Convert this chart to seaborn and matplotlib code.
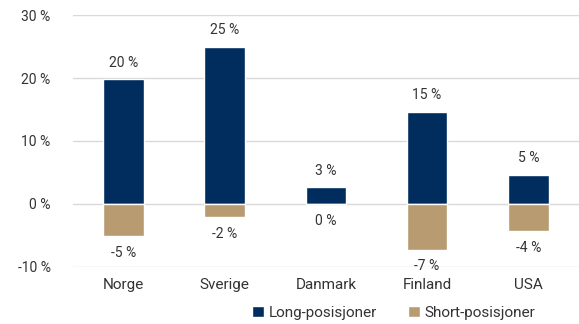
import matplotlib
matplotlib.use("Agg")
import matplotlib.pyplot as plt
from matplotlib.patches import Patch
import seaborn as sns
import pandas as pd

# Net positions per market, in percent
land = ["Norge", "Sverige", "Danmark", "Finland", "USA"]
long_pos = [19.8, 25.0, 2.6, 14.6, 4.6]
short_pos = [-5.1, -2.1, 0.0, -7.3, -4.4]
series_names = ["Long-posisjoner", "Short-posisjoner"]
y_ticks = [-10, 0, 10, 20, 30]

navy = "#002D5E"
tan = "#B89B71"
text_col = "#333333"
grid_col = "#D9D9D9"

df = pd.DataFrame({"land": land, "long": long_pos, "short": short_pos})

sns.set_theme(style="white")
plt.rcParams["font.family"] = ["Roboto", "DejaVu Sans"]

fig = plt.figure(figsize=(5.79, 3.24), dpi=100)
ax = fig.add_axes([0.1256, 0.177, 0.8744, 0.776])

sns.barplot(data=df, x="land", y="long", color=navy, width=0.4,
            saturation=1, ax=ax, order=land)
sns.barplot(data=df, x="land", y="short", color=tan, width=0.4,
            saturation=1, ax=ax, order=land)


def pct(v):
    r = round(float(v))
    return f"{0 if r == 0 else r} %"


long_cont, short_cont = ax.containers[0], ax.containers[1]
ax.bar_label(long_cont, labels=[pct(v) for v in long_cont.datavalues],
             padding=7, fontsize=10, color=text_col)

# short labels always sit below the bar, also when the value is zero
for bar, v in zip(short_cont, short_cont.datavalues):
    x = bar.get_x() + bar.get_width() / 2
    y = min(bar.get_y(), bar.get_y() + bar.get_height())
    ax.annotate(pct(v), (x, y), xytext=(0, -7), textcoords="offset points",
                ha="center", va="top", fontsize=10, color=text_col)

ax.set_ylim(-10, 30)
ax.set_yticks(y_ticks)
ax.set_yticklabels([f"{t} %" for t in y_ticks])
ax.set_xlim(-0.5, len(land) - 0.5)
ax.set_xlabel("")
ax.set_ylabel("")
ax.grid(axis="y", color=grid_col, linewidth=1)
ax.set_axisbelow(True)
for s in ax.spines.values():
    s.set_visible(False)
ax.tick_params(axis="y", length=0, pad=16, labelsize=10, labelcolor=text_col)
ax.tick_params(axis="x", length=0, pad=8, labelsize=11, labelcolor=text_col)

handles = [Patch(facecolor=navy), Patch(facecolor=tan)]
fig.legend(handles, series_names, loc="center", bbox_to_anchor=(0.68, 0.035),
           ncol=2, frameon=False, fontsize=11, handlelength=0.8,
           handleheight=0.8, handletextpad=0.3, columnspacing=2.0,
           labelcolor=text_col)

fig.savefig("out.png", dpi=100)
